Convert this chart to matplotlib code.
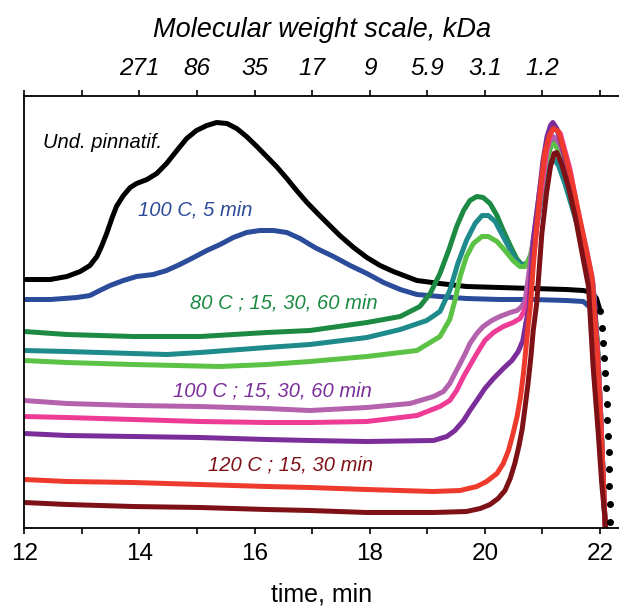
import matplotlib
matplotlib.use("Agg")
import matplotlib.pyplot as plt

plt.rcParams['font.family'] = ['Liberation Sans', 'DejaVu Sans']

# retention time (min) and detector signal (a.u.)
und_t = [12.0, 12.45, 12.74, 12.97, 13.14, 13.26, 13.34, 13.43, 13.52, 13.60, 13.72, 13.84,
         13.95, 14.13, 14.30, 14.47, 14.65, 14.82, 14.99, 15.17, 15.34, 15.52, 15.69, 15.86,
         16.04, 16.21, 16.38, 16.56, 16.73, 16.91, 17.13, 17.48, 17.72, 17.95, 18.18, 18.41,
         18.82, 19.22, 19.68, 20.26, 20.84, 21.42, 21.71, 21.86, 21.94, 22.00]
und_y = [248, 248, 251, 256, 262, 271, 281, 294, 309, 321, 332, 340,
         344, 348, 354, 364, 377, 389, 397, 402, 405, 404, 399, 391,
         381, 371, 361, 349, 337, 325, 312, 292, 280, 270, 262, 256,
         247, 244, 241, 240, 239, 238, 237, 235, 229, 217]
# sparse points of the steep tail (drawn as dots)
und_tail_t = [22.00, 22.03, 22.05, 22.07, 22.09, 22.10, 22.12, 22.13, 22.14, 22.15, 22.16, 22.16,
              22.17, 22.17]
und_tail_y = [217, 200, 185, 170, 155, 140, 124, 108, 92, 76, 59, 42, 24, 6]

c100_5_t = [12.0, 12.45, 12.91, 13.14, 13.31, 13.49, 13.72, 13.95, 14.24, 14.47, 14.70, 14.94,
            15.17, 15.40, 15.63, 15.86, 16.09, 16.33, 16.56, 16.79, 16.96, 17.08, 17.37, 17.66,
            17.95, 18.24, 18.53, 18.82, 19.22, 19.68, 20.26, 20.84, 21.42, 21.71, 21.83, 21.95,
            22.0, 22.05, 22.09]
c100_5_y = [228, 228, 230, 232, 237, 242, 247, 251, 253, 257, 263, 270,
            277, 283, 290, 295, 297, 297, 295, 289, 283, 279, 271, 262,
            254, 245, 238, 233, 231, 229, 228, 228, 227, 226, 220, 188,
            128, 58, 0]

c80_15_t = [12.0, 12.74, 13.89, 15.05, 16.21, 16.96, 17.95, 18.53, 18.87, 19.05, 19.22, 19.37,
            19.51, 19.63, 19.74, 19.86, 19.97, 20.09, 20.21, 20.32, 20.44, 20.55, 20.64, 20.73,
            20.81, 20.90, 20.99, 21.07, 21.16, 21.22, 21.30, 21.42, 21.54, 21.65, 21.77, 21.88,
            21.95, 22.0, 22.05, 22.09]
c80_15_y = [196, 193, 191, 191, 195, 197, 205, 211, 221, 234, 254, 277,
            301, 317, 327, 331, 330, 324, 312, 297, 282, 269, 263, 264,
            274, 301, 334, 367, 384, 387, 377, 354, 327, 301, 271, 241,
            188, 128, 58, 0]

c80_30_t = [12.0, 12.74, 13.89, 14.48, 15.05, 16.21, 16.96, 17.95, 18.53, 18.99, 19.22, 19.39,
            19.53, 19.68, 19.83, 19.95, 20.06, 20.18, 20.29, 20.41, 20.52, 20.64, 20.73, 20.81,
            20.90, 21.01, 21.10, 21.19, 21.28, 21.39, 21.51, 21.65, 21.77, 21.88, 21.95, 22.0,
            22.05, 22.09]
c80_30_y = [177, 176, 174, 173, 175, 180, 183, 190, 198, 207, 216, 237,
            264, 287, 304, 312, 312, 306, 294, 281, 269, 262, 263, 272,
            301, 341, 362, 369, 362, 344, 321, 294, 269, 241, 183, 128,
            58, 0]

c80_60_t = [12.0, 12.74, 13.89, 15.40, 16.21, 16.96, 17.95, 18.82, 19.22, 19.39, 19.48, 19.57,
            19.68, 19.80, 19.95, 20.06, 20.21, 20.35, 20.49, 20.61, 20.70, 20.78, 20.87, 20.96,
            21.04, 21.13, 21.20, 21.28, 21.39, 21.51, 21.65, 21.77, 21.88, 21.95, 22.0, 22.05,
            22.09]
c80_60_y = [167, 165, 163, 161, 163, 166, 171, 177, 191, 208, 227, 251,
            271, 284, 291, 291, 286, 277, 267, 261, 261, 269, 294, 327,
            361, 381, 384, 377, 357, 331, 297, 271, 241, 183, 128, 58,
            0]

c100_15_t = [12.0, 12.74, 13.89, 15.05, 16.21, 16.96, 17.95, 18.70, 19.11, 19.28, 19.39, 19.48,
             19.57, 19.66, 19.74, 19.86, 19.97, 20.12, 20.26, 20.44, 20.56, 20.64, 20.70, 20.78,
             20.87, 20.96, 21.04, 21.13, 21.19, 21.30, 21.42, 21.54, 21.65, 21.77, 21.88, 21.95,
             22.0, 22.05, 22.09]
c100_15_y = [127, 124, 122, 121, 119, 117, 120, 124, 131, 136, 144, 154,
             164, 174, 184, 194, 201, 207, 211, 215, 217, 221, 227, 261,
             301, 341, 371, 387, 391, 384, 365, 337, 307, 277, 244, 183,
             128, 58, 0]

c100_30_t = [12.0, 12.74, 13.89, 15.05, 16.21, 16.96, 17.95, 18.82, 19.22, 19.39, 19.51, 19.63,
             19.74, 19.86, 20.00, 20.15, 20.32, 20.49, 20.61, 20.68, 20.75, 20.84, 20.96, 21.08,
             21.15, 21.20, 21.31, 21.48, 21.65, 21.83, 21.95, 22.0, 22.05, 22.09]
c100_30_y = [111, 110, 108, 106, 105, 105, 106, 112, 121, 127, 137, 151,
             162, 174, 187, 195, 201, 205, 209, 216, 227, 268, 328, 378,
             396, 400, 394, 358, 306, 248, 183, 128, 58, 0]

c100_60_t = [12.0, 12.74, 13.89, 15.05, 16.21, 16.96, 17.95, 19.11, 19.34, 19.48, 19.63, 19.74,
             19.86, 20.00, 20.15, 20.32, 20.47, 20.58, 20.66, 20.71, 20.77, 20.84, 20.93, 21.01,
             21.08, 21.14, 21.18, 21.25, 21.36, 21.48, 21.60, 21.71, 21.83, 21.91, 21.97, 22.03,
             22.09]
c100_60_y = [94, 92, 91, 90, 88, 87, 86, 87, 91, 97, 107, 117,
             127, 139, 149, 159, 167, 176, 187, 204, 221, 287, 327, 367,
             391, 402, 405, 399, 377, 347, 314, 281, 251, 224, 148, 68,
             0]

c120_15_t = [12.0, 12.74, 13.89, 15.05, 16.21, 16.96, 17.95, 19.10, 19.57, 19.86, 20.03, 20.21,
             20.32, 20.41, 20.49, 20.56, 20.62, 20.67, 20.71, 20.75, 20.79, 20.84, 20.90, 20.97,
             21.04, 21.12, 21.19, 21.28, 21.39, 21.51, 21.62, 21.74, 21.86, 21.95, 22.0, 22.05,
             22.09]
c120_15_y = [48, 46, 45, 43, 41, 40, 38, 36, 37, 41, 46, 54,
             64, 77, 94, 111, 131, 154, 177, 201, 221, 261, 301, 341,
             374, 392, 399, 396, 374, 347, 317, 284, 251, 178, 118, 58,
             0]

c120_30_t = [12.0, 12.74, 13.89, 15.05, 16.21, 16.96, 17.95, 19.10, 19.68, 19.92, 20.09, 20.23,
             20.35, 20.44, 20.52, 20.59, 20.65, 20.70, 20.75, 20.80, 20.84, 20.90, 20.99, 21.07,
             21.14, 21.20, 21.25, 21.33, 21.45, 21.57, 21.68, 21.80, 21.88, 21.97, 22.03, 22.09,
             22.10]
c120_30_y = [25, 23, 21, 20, 18, 17, 15, 15, 16, 19, 23, 29,
             37, 49, 64, 81, 99, 121, 144, 171, 197, 224, 294, 334,
             361, 374, 375, 364, 341, 311, 277, 241, 161, 94, 44, 7,
             0]

# top axis: molecular weight calibration at each minute
mw_ticks = [12, 13, 14, 15, 16, 17, 18, 19, 20, 21, 22]
mw_labels = ['', '', '271', '86', '35', '17', '9', '5.9', '3.1', '1.2', '']

series = [
    (und_t, und_y, '#000000'),
    (c100_5_t, c100_5_y, '#2b4c9b'),
    (c80_15_t, c80_15_y, '#1c8a42'),
    (c80_30_t, c80_30_y, '#1e8a8c'),
    (c80_60_t, c80_60_y, '#5cc245'),
    (c100_15_t, c100_15_y, '#b462ae'),
    (c100_30_t, c100_30_y, '#ee3c96'),
    (c100_60_t, c100_60_y, '#7b2e9a'),
    (c120_15_t, c120_15_y, '#ee3a2c'),
    (c120_30_t, c120_30_y, '#7e1116'),
]

fig = plt.figure(figsize=(6.19, 6.08), dpi=100)
ax = fig.add_axes([0.0393, 0.1324, 0.9607, 0.7105])

for t, y, col in series:
    ax.plot(t, y, color=col, lw=3.6, solid_capstyle='round', solid_joinstyle='round')
ax.plot(und_tail_t, und_tail_y, 'o', color='#000000', ms=4.0, ls='none')

ax.set_xlim(12, 22.33)
ax.set_ylim(0, 432)

ax.spines['right'].set_visible(False)
ax.spines['top'].set_visible(False)
for s in ['left', 'bottom']:
    ax.spines[s].set_linewidth(1.3)

ax.set_yticks([])
ax.set_xticks([12, 14, 16, 18, 20, 22])
ax.set_xticks([13, 15, 17, 19, 21], minor=True)
ax.tick_params(axis='x', which='both', direction='out', length=4.5, width=1.2,
               labelsize=17.5, pad=7)
ax.set_xlabel('time, min', fontsize=18, labelpad=12)

top = ax.secondary_xaxis('top')
top.set_xticks(mw_ticks)
top.set_xticklabels(mw_labels, fontstyle='italic')
top.tick_params(direction='out', length=4.5, width=1.2, labelsize=17.5, pad=7)
top.spines['top'].set_linewidth(1.3)
top.set_xlabel('Molecular weight scale, kDa', fontsize=19.5, fontstyle='italic', labelpad=14)

ax.text(12.32, 385, 'Und. pinnatif.', color='#000000', fontsize=14.5, style='italic',
        ha='left', va='center')
ax.text(13.97, 318, '100 C, 5 min', color='#2e4b9a', fontsize=14.5, style='italic',
        ha='left', va='center')
ax.text(14.88, 225, '80 C ; 15, 30, 60 min', color='#1c8a42', fontsize=14.5, style='italic',
        ha='left', va='center')
ax.text(14.58, 137, '100 C ; 15, 30, 60 min', color='#7b2e9a', fontsize=14.5, style='italic',
        ha='left', va='center')
ax.text(15.19, 63, '120 C ; 15, 30 min', color='#7e1116', fontsize=14.5, style='italic',
        ha='left', va='center')

fig.savefig('out.png', dpi=100)
